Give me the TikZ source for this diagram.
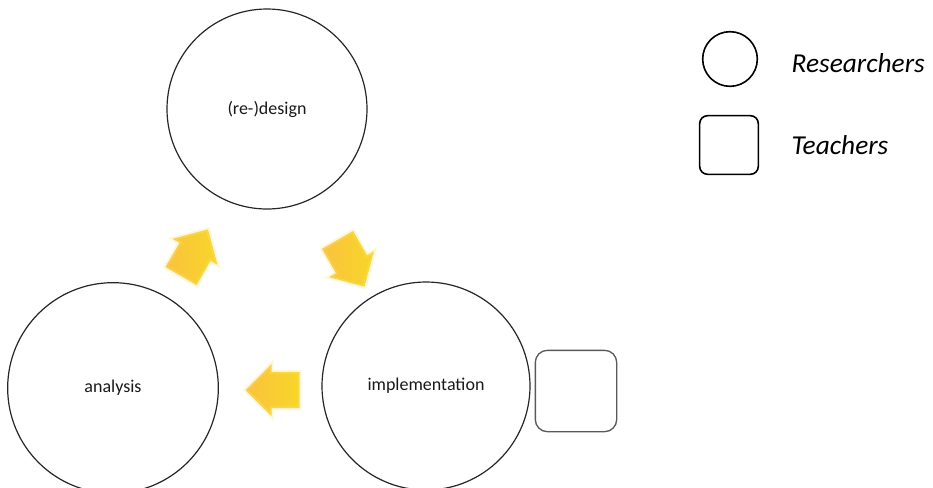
\documentclass[tikz,border=0pt]{standalone}
\usepackage{fontspec}
\setmainfont{Carlito}
\usepackage{tikz}
\usetikzlibrary{shapes.arrows,calc}
\definecolor{cycleyellow}{RGB}{247,214,40}
\definecolor{cycleorange}{RGB}{250,194,62}
\tikzstyle{phase} = [circle, draw=black!85, line width=0.9pt, text=black!90, font=\fontsize{13.5}{16}\selectfont]
\tikzstyle{teacher} = [rectangle, rounded corners=9pt, draw=black!65, line width=1pt, minimum size=61pt]
\tikzstyle{turn} = [single arrow, single arrow head extend=6pt, inner sep=12pt, minimum height=37pt, minimum width=36pt, left color=cycleorange, right color=cycleyellow, draw=cycleyellow!60, draw opacity=0.3, line width=3pt]
\tikzstyle{legend} = [anchor=west, font=\fontsize{20.5}{24}\selectfont\itshape]

\begin{document}
\begin{tikzpicture}[x=0.75pt, y=-0.75pt]
    \useasboundingbox (0,0) rectangle (933,487);
    % the three phases of the cycle
    \node[phase, minimum size=150pt] (design) at (267,109) {(re-)design};
    \node[phase, minimum size=158pt] (analysis) at (113,388) {analysis};
    \node[phase, minimum size=156pt] (implementation) at (426,386) {implementation};
    \node[teacher] (teachers) at (576,391) {};
    % arrows round the cycle
    \node[turn, rotate=60] (toDesign) at ($(analysis)!0.5!(design)+(0,12)$) {};
    \node[turn, rotate=-60] (toImplementation) at ($(design)!0.5!(implementation)+(0,8)$) {};
    \node[turn, rotate=180] (toAnalysis) at ($(implementation)!0.5!(analysis)+(12,3)$) {};
    % key
    \node[phase, minimum size=41pt, draw=black, line width=1.2pt] (researcherKey) at (730,59) {};
    \node[teacher, minimum size=44pt, rounded corners=6pt, draw=black, line width=1.2pt] (teacherKey) at (729,145) {};
    \node[legend] (researcherText) at (787,63) {Researchers};
    \node[legend] (teacherText) at (787,145) {Teachers};
\end{tikzpicture}
\end{document}
